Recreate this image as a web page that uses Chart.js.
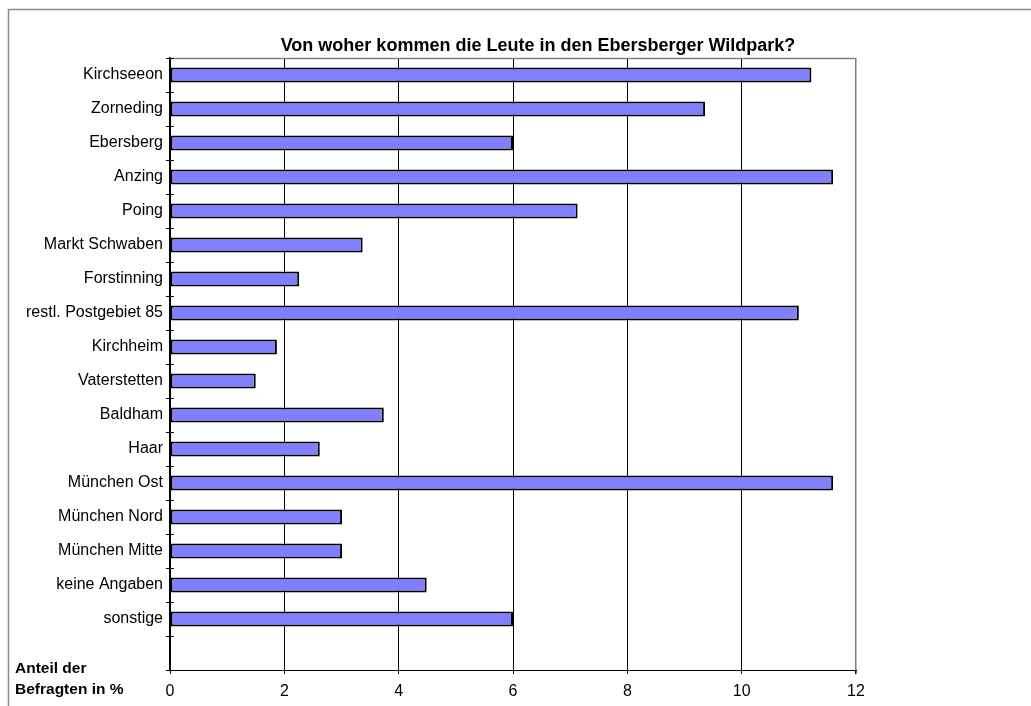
<!DOCTYPE html>
<html>
<head>
<meta charset="utf-8">
<title>Ebersberger Wildpark</title>
<script src="https://cdn.jsdelivr.net/npm/chart.js@4"></script>
<style>
  html, body { margin: 0; padding: 0; background: #fff; }
  #wrap { width: 1031px; height: 706px; position: relative; }
</style>
</head>
<body>
<div id="wrap"><canvas id="myChart"></canvas></div>
<script>
// Daten (Anteil der Befragten in %)
const orte = ['Kirchseeon', 'Zorneding', 'Ebersberg', 'Anzing', 'Poing', 'Markt Schwaben',
  'Forstinning', 'restl. Postgebiet 85', 'Kirchheim', 'Vaterstetten', 'Baldham', 'Haar',
  'München Ost', 'München Nord', 'München Mitte', 'keine Angaben', 'sonstige', ''];
const anteile = [11.22, 9.36, 6.0, 11.6, 7.13, 3.37, 2.26, 11.0, 1.87, 1.5, 3.74, 2.62,
  11.6, 3.01, 3.01, 4.49, 6.0, null];
const xTicks = [0, 2, 4, 6, 8, 10, 12];

const titel = 'Von woher kommen die Leute in den Ebersberger Wildpark?';
const achsenText = ['Anteil der', 'Befragten in %'];
const schrift = "'Liberation Sans', Arial, sans-serif";

Chart.defaults.font.family = schrift;
Chart.defaults.color = '#000';

// Rahmen, Titel, Achsenbeschriftung und Tick-Kreuze
const extras = {
  id: 'extras',
  beforeDraw(chart) {
    const ctx = chart.ctx;
    ctx.save();
    ctx.fillStyle = '#fff';
    ctx.fillRect(0, 0, chart.width, chart.height);
    ctx.restore();
  },
  afterDraw(chart) {
    const ctx = chart.ctx;
    const a = chart.chartArea;
    const y = chart.scales.y;
    ctx.save();
    // outer frame
    ctx.strokeStyle = '#8a8a8a';
    ctx.lineWidth = 1.5;
    ctx.strokeRect(8.5, 9.5, 1200, 900);
    // top + right of plot
    ctx.lineWidth = 1.5;
    ctx.strokeStyle = '#808080';
    ctx.beginPath();
    ctx.moveTo(a.left, a.top + 0.5);
    ctx.lineTo(a.right, a.top + 0.5);
    ctx.stroke();
    ctx.strokeStyle = '#000';
    ctx.lineWidth = 1;
    ctx.beginPath();
    ctx.moveTo(a.left, a.top + 0.5);
    ctx.lineTo(a.left + 4, a.top + 0.5);
    ctx.stroke();
    // inner half of the y tick marks
    ctx.beginPath();
    for (let i = 1; i < orte.length; i++) {
      const py = Math.round((y.getPixelForValue(i - 1) + y.getPixelForValue(i)) / 2) + 0.5;
      ctx.moveTo(a.left, py);
      ctx.lineTo(a.left + 4, py);
    }
    ctx.stroke();
    // title
    ctx.fillStyle = '#000';
    ctx.font = 'bold 18px ' + schrift;
    ctx.textAlign = 'center';
    ctx.textBaseline = 'middle';
    ctx.fillText(titel, 538, 46);
    // axis caption
    ctx.font = 'bold 15.5px ' + schrift;
    ctx.textAlign = 'left';
    ctx.fillText(achsenText[0], 15, 669);
    ctx.fillText(achsenText[1], 15, 690);
    ctx.restore();
  }
};

const ctx = document.getElementById('myChart');
new Chart(ctx, {
  type: 'bar',
  data: {
    labels: orte,
    datasets: [{
      label: 'Anteil der Befragten in %',
      data: anteile,
      backgroundColor: '#8080ff',
      borderColor: '#000',
      borderWidth: 2,
      borderSkipped: false,
      categoryPercentage: 1,
      barPercentage: 0.44
    }]
  },
  options: {
    indexAxis: 'y',
    responsive: true,
    maintainAspectRatio: false,
    animation: false,
    layout: { padding: { top: 58, right: 175, left: 0, bottom: 0 } },
    plugins: {
      legend: { display: false },
      tooltip: { enabled: false }
    },
    scales: {
      x: {
        type: 'linear',
        min: 0,
        max: 12,
        afterBuildTicks: (s) => { s.ticks = xTicks.map(v => ({ value: v })); },
        afterFit: (s) => { s.height = 36; },
        border: { color: '#000', width: 1 },
        grid: {
          color: (c) => (c.tick && c.tick.value === 12 ? '#808080' : '#000'),
          lineWidth: (c) => (c.tick && c.tick.value === 12 ? 1.5 : 1),
          tickLength: 4,
          tickColor: '#000'
        },
        ticks: { font: { size: 16 }, padding: 8, color: '#000', maxRotation: 0 }
      },
      y: {
        type: 'category',
        offset: true,
        afterFit: (s) => { s.width = 170; },
        border: { color: '#000', width: 1.5 },
        grid: {
          offset: true,
          drawOnChartArea: false,
          tickLength: 4,
          color: '#000'
        },
        ticks: { font: { size: 16 }, padding: 3, color: '#000', autoSkip: false }
      }
    }
  },
  plugins: [extras]
});
</script>
</body>
</html>
